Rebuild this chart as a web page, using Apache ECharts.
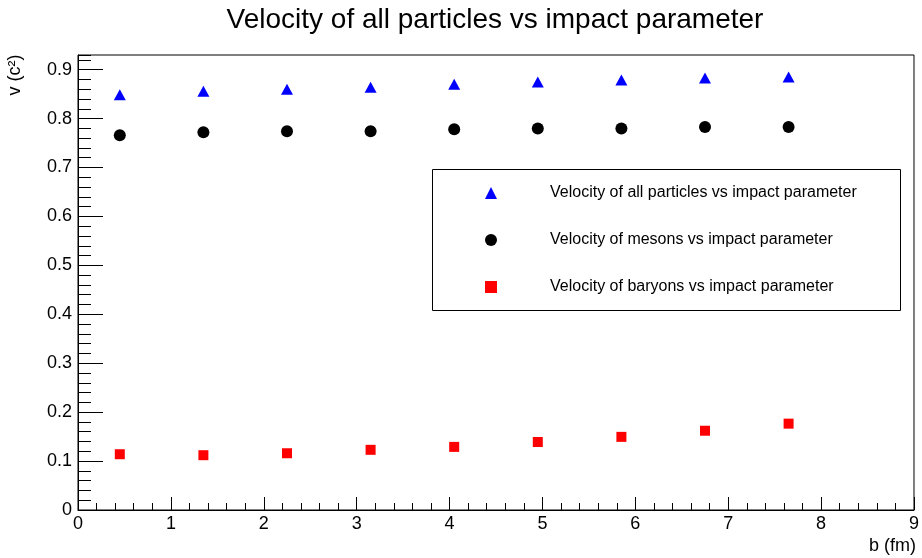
<!DOCTYPE html>
<html>
<head>
<meta charset="utf-8">
<script src="https://cdn.jsdelivr.net/npm/echarts@6/dist/echarts.min.js"></script>
<style>
html,body{margin:0;padding:0;background:#fff;}
#chart{width:922px;height:558px;}
</style>
</head>
<body>
<div id="chart"></div>
<script>
// ---- data ----
var impactParam = [0.45, 1.35, 2.25, 3.15, 4.05, 4.95, 5.85, 6.75, 7.65];
var vAll     = [0.849, 0.856, 0.860, 0.864, 0.870, 0.875, 0.879, 0.883, 0.885];
var vMesons  = [0.766, 0.772, 0.774, 0.774, 0.778, 0.780, 0.780, 0.783, 0.783];
var vBaryons = [0.114, 0.112, 0.116, 0.123, 0.129, 0.139, 0.1495, 0.162, 0.1765];
var seriesNames = [
  'Velocity of all particles vs impact parameter',
  'Velocity of mesons vs impact parameter',
  'Velocity of baryons vs impact parameter'
];
var titleText = 'Velocity of all particles vs impact parameter';
var xTitle = 'b (fm)';
var yTitle = 'v (c\u00B2)';

function pairs(xs, ys){ return xs.map(function(x,i){ return [x, ys[i]]; }); }

var FONT = 'Liberation Sans, Arial, Helvetica, sans-serif';
var chart = echarts.init(document.getElementById('chart'), null, {renderer:'canvas'});
var yMax = 0.93;

chart.setOption({
  animation: false,
  backgroundColor: '#fff',
  grid: { left: 78, right: 6, top: 55, bottom: 48, show: true, borderColor: '#000', borderWidth: 1, backgroundColor: 'transparent' },
  xAxis: {
    type: 'value', min: 0, max: 9, interval: 1,
    axisLine: { show: true, onZero: false, lineStyle: { color: '#000', width: 1 } },
    axisTick: { show: true, inside: true, length: 13, lineStyle: { color: '#000' } },
    minorTick: { show: true, splitNumber: 5, length: 7, lineStyle: { color: '#000' } },
    axisLabel: { color: '#000', fontSize: 18, fontFamily: FONT, margin: 5 },
    splitLine: { show: false }
  },
  yAxis: [{
    type: 'value', min: 0, max: yMax, interval: 0.1,
    axisLine: { show: true, onZero: false, lineStyle: { color: '#000', width: 1 } },
    axisTick: { show: true, inside: true, length: 25, lineStyle: { color: '#000' } },
    axisLabel: { color: '#000', fontSize: 18, fontFamily: FONT, margin: 6, showMaxLabel: false },
    splitLine: { show: false }
  }, {
    type: 'value', min: 0, max: yMax, interval: 0.02, position: 'left',
    axisLine: { show: false },
    axisTick: { show: true, inside: true, length: 13, lineStyle: { color: '#000' } },
    axisLabel: { show: false },
    splitLine: { show: false }
  }],
  legend: {
    orient: 'vertical', left: 485, top: 185, padding: 0,
    itemWidth: 12, itemHeight: 12, itemGap: 31,
    textStyle: { fontSize: 16, fontFamily: FONT, color: '#000', lineHeight: 16, padding: [0,0,0,48] },
    data: seriesNames
  },
  graphic: [
    { type: 'text', x: 495, y: 20,
      style: { text: titleText, align: 'center', verticalAlign: 'middle', fontSize: 28, fontFamily: FONT, fill: '#000' } },
    { type: 'text', x: 916, y: 546,
      style: { text: xTitle, align: 'right', verticalAlign: 'middle', fontSize: 18, fontFamily: FONT, fill: '#000' } },
    { type: 'text', x: 15, y: 75, rotation: Math.PI/2,
      style: { text: yTitle, align: 'center', verticalAlign: 'middle', fontSize: 18, fontFamily: FONT, fill: '#000' } },
    { type: 'rect', shape: { x: 432.5, y: 169.5, width: 468, height: 141 },
      style: { fill: 'none', stroke: '#000', lineWidth: 1 }, z: 0 }
  ],
  series: [
    { name: seriesNames[0], type: 'scatter', symbol: 'triangle', symbolSize: [12, 11],
      itemStyle: { color: '#0000ff', opacity: 1 }, data: pairs(impactParam, vAll) },
    { name: seriesNames[1], type: 'scatter', symbol: 'circle', symbolSize: 12,
      itemStyle: { color: '#000000', opacity: 1 }, data: pairs(impactParam, vMesons) },
    { name: seriesNames[2], type: 'scatter', symbol: 'rect', symbolSize: 10,
      itemStyle: { color: '#ff0000', opacity: 1 }, data: pairs(impactParam, vBaryons) }
  ]
});
</script>
</body>
</html>
